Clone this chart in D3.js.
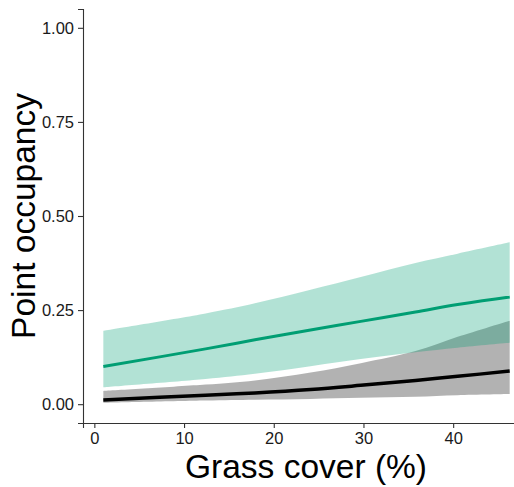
<!DOCTYPE html>
<html>
<head>
<meta charset="utf-8">
<script src="https://cdn.jsdelivr.net/npm/d3@7"></script>
<style>
  html, body { margin: 0; padding: 0; background: #fff; overflow: hidden; }
  svg { display: block; font-family: "Liberation Sans", Arial, sans-serif; }
</style>
</head>
<body>
<svg id="chart" width="514" height="487"></svg>
<script>
// Grass cover (%) sample positions
const grass = [1, 12.4, 17.9, 24.1, 29.7, 35.8, 40.5, 46.3];
// Green series (mean and 95% band)
const greenMean  = [0.100, 0.147, 0.171, 0.197, 0.220, 0.245, 0.265, 0.285];
const greenLower = [0.045, 0.067, 0.081, 0.101, 0.120, 0.138, 0.150, 0.163];
const greenUpper = [0.195, 0.241, 0.268, 0.304, 0.338, 0.375, 0.400, 0.430];
// Black series (mean and 95% band)
const blackMean  = [0.011, 0.024, 0.030, 0.039, 0.050, 0.063, 0.074, 0.088];
const blackLower = [0.004, 0.010, 0.012, 0.014, 0.017, 0.020, 0.024, 0.027];
const blackUpper = [0.035, 0.052, 0.063, 0.084, 0.109, 0.141, 0.179, 0.222];
// Axis ticks
const xTicks = [0, 10, 20, 30, 40];
const yTicks = [0, 0.25, 0.5, 0.75, 1];
const xTitle = "Grass cover (%)";
const yTitle = "Point occupancy";

const svg = d3.select("#chart");
const x = d3.scaleLinear().domain([-1.265, 48.565]).range([83, 530]);
const y = d3.scaleLinear().domain([-0.05, 1.05]).range([423, 9]);

const rows = grass.map((g, i) => ({
  g, gm: greenMean[i], gl: greenLower[i], gu: greenUpper[i],
  bm: blackMean[i], bl: blackLower[i], bu: blackUpper[i]
}));
const curve = d3.curveCatmullRom.alpha(0.5);

const areaB = d3.area().curve(curve).x(d => x(d.g)).y0(d => y(d.bl)).y1(d => y(d.bu));
const areaG = d3.area().curve(curve).x(d => x(d.g)).y0(d => y(d.gl)).y1(d => y(d.gu));
const lineB = d3.line().curve(curve).x(d => x(d.g)).y(d => y(d.bm));
const lineG = d3.line().curve(curve).x(d => x(d.g)).y(d => y(d.gm));

svg.append("path").datum(rows).attr("d", areaB).attr("fill", "#000").attr("fill-opacity", 0.3);
svg.append("path").datum(rows).attr("d", areaG).attr("fill", "#009E73").attr("fill-opacity", 0.3);
svg.append("path").datum(rows).attr("d", lineG).attr("fill", "none").attr("stroke", "#009E73").attr("stroke-width", 3);
svg.append("path").datum(rows).attr("d", lineB).attr("fill", "none").attr("stroke", "#000").attr("stroke-width", 3.5);

// Axes
const xAxis = d3.axisBottom(x).tickValues(xTicks).tickSize(5).tickPadding(4).tickFormat(d3.format("d"));
const yAxis = d3.axisLeft(y).tickValues(yTicks).tickSize(5).tickPadding(4).tickFormat(d3.format(".2f"));

const gx = svg.append("g").attr("transform", "translate(0,423)").call(xAxis);
const gy = svg.append("g").attr("transform", "translate(83,0)").call(yAxis);
[gx, gy].forEach(g => {
  g.select(".domain").attr("stroke", "#333").attr("stroke-width", 1.1);
  g.selectAll(".tick line").attr("stroke", "#333").attr("stroke-width", 1.1);
  g.selectAll(".tick text").attr("fill", "#1a1a1a").style("font-size", "16.5px")
   .style("font-family", "'Liberation Sans', Arial, sans-serif");
});

svg.append("text").attr("x", 306).attr("y", 478).attr("text-anchor", "middle")
  .style("font-size", "33.5px").attr("fill", "#000").text(xTitle);
svg.append("text").attr("transform", "translate(35,216) rotate(-90)").attr("text-anchor", "middle")
  .style("font-size", "33.5px").attr("fill", "#000").text(yTitle);
</script>
</body>
</html>
